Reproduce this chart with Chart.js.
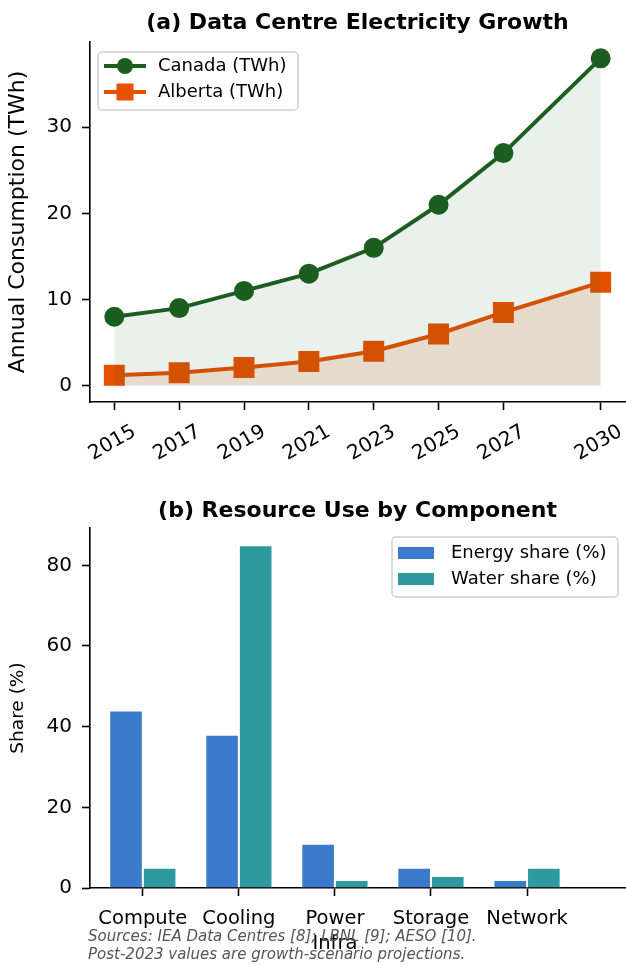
<!DOCTYPE html>
<html>
<head>
<meta charset="utf-8">
<script src="https://cdn.jsdelivr.net/npm/chart.js@4.4.1/dist/chart.umd.min.js"></script>
<style>
  html, body { margin: 0; padding: 0; background: #fff; }
  #wrap { position: relative; width: 626px; height: 965px; overflow: hidden; }
  #top { position: absolute; left: 0; top: 0; }
  #bottom { position: absolute; left: 0; top: 480px; }
  #note {
    position: absolute; left: 88px; top: 927px;
    font: italic 15px "DejaVu Sans", sans-serif; color: #555; line-height: 18px;
  }
</style>
</head>
<body>
<div id="wrap">
  <canvas id="top" width="626" height="480"></canvas>
  <canvas id="bottom" width="626" height="485"></canvas>
  <div id="note">Sources: IEA Data Centres [8]; LBNL [9]; AESO [10].<br>Post-2023 values are growth-scenario projections.</div>
</div>
<script>
// (a) electricity growth
const years = [2015, 2017, 2019, 2021, 2023, 2025, 2027, 2030];
const canadaTWh = [8, 9, 11, 13, 16, 21, 27, 38];
const albertaTWh = [1.2, 1.5, 2.1, 2.8, 4.0, 6.0, 8.5, 12.0];
const growthYTicks = [0, 10, 20, 30];

// (b) resource use
const components = ["Compute", "Cooling", "Power\nInfra", "Storage", "Network"];
const energyShare = [44, 38, 11, 5, 2];
const waterShare = [5, 85, 2, 3, 5];
const shareYTicks = [0, 20, 40, 60, 80];

const FONT = "'DejaVu Sans', sans-serif";
const GREEN = "#1b5e20";
const ORANGE = "#e65100";
const BLUE = "#3a7bcb";
const TEAL = "#2e9a9f";

Chart.defaults.font.family = FONT;
Chart.defaults.color = "#000";
Chart.defaults.animation = false;

function axisStyle() {
  return {
    grid: { display: true, offset: false, drawOnChartArea: false, drawTicks: true, tickLength: 8, tickWidth: 1.6, tickColor: "#000" },
    border: { display: true, color: "#000", width: 1.6 }
  };
}

function noPad(s) {
  s.paddingLeft = 0; s.paddingRight = 0; s.paddingTop = 0; s.paddingBottom = 0;
}

function roundRect(ctx, x, y, w, h, r) {
  ctx.beginPath();
  ctx.moveTo(x + r, y);
  ctx.arcTo(x + w, y, x + w, y + h, r);
  ctx.arcTo(x + w, y + h, x, y + h, r);
  ctx.arcTo(x, y + h, x, y, r);
  ctx.arcTo(x, y, x + w, y, r);
  ctx.closePath();
}

// title centred over the plot area
function plotTitle(id, text, cy) {
  return {
    id: id,
    afterDraw(chart) {
      const a = chart.chartArea, ctx = chart.ctx;
      ctx.save();
      ctx.font = "bold 22px " + FONT;
      ctx.fillStyle = "#000";
      ctx.textAlign = "center";
      ctx.textBaseline = "middle";
      ctx.fillText(text, (a.left + a.right) / 2, cy);
      ctx.restore();
    }
  };
}

// legend drawn inside the plot, matplotlib style
function boxLegend(id, box, rows) {
  return {
    id: id,
    afterDraw(chart) {
      const ctx = chart.ctx;
      ctx.save();
      roundRect(ctx, box.x, box.y, box.w, box.h, 4);
      ctx.fillStyle = "rgba(255,255,255,0.85)";
      ctx.fill();
      ctx.strokeStyle = "#d0d0d0";
      ctx.lineWidth = 1.5;
      ctx.stroke();
      ctx.font = "18px " + FONT;
      ctx.textBaseline = "middle";
      rows.forEach((r, i) => {
        const cy = box.y + box.rowTop + i * box.rowGap;
        const sx = box.x + 6;
        if (r.kind === "line") {
          ctx.strokeStyle = r.color;
          ctx.lineWidth = 4;
          ctx.beginPath();
          ctx.moveTo(sx, cy);
          ctx.lineTo(sx + 42, cy);
          ctx.stroke();
          ctx.fillStyle = r.color;
          if (r.marker === "circle") {
            ctx.beginPath();
            ctx.arc(sx + 21, cy, 8, 0, Math.PI * 2);
            ctx.fill();
          } else {
            ctx.fillRect(sx + 21 - 8.5, cy - 8.5, 17, 17);
          }
        } else {
          ctx.fillStyle = r.color;
          ctx.fillRect(sx, cy - 6, 36, 12);
        }
        ctx.fillStyle = "#000";
        ctx.textAlign = "left";
        ctx.fillText(r.label, box.x + box.textX, cy);
      });
      ctx.restore();
    }
  };
}

// rotated, centred year labels (matplotlib rotation=30)
const yearLabels = {
  id: "yearLabels",
  afterDraw(chart) {
    const sc = chart.scales.x;
    const ctx = chart.ctx;
    ctx.save();
    ctx.font = "20px " + FONT;
    ctx.fillStyle = "#000";
    ctx.textAlign = "center";
    ctx.textBaseline = "middle";
    sc.ticks.forEach(t => {
      const px = sc.getPixelForValue(t.value);
      ctx.save();
      ctx.translate(px - 2, 443);
      ctx.rotate(-Math.PI / 6);
      ctx.fillText(String(t.value), 0, 0);
      ctx.restore();
    });
    ctx.restore();
  }
};

const growthChart = new Chart(document.getElementById("top"), {
  type: "line",
  data: {
    datasets: [
      {
        label: "Canada (TWh)",
        data: years.map((y, i) => ({ x: y, y: canadaTWh[i] })),
        borderColor: GREEN,
        backgroundColor: "rgba(27,94,32,0.09)",
        pointBackgroundColor: GREEN,
        pointBorderColor: GREEN,
        pointStyle: "circle",
        pointRadius: 8,
        borderWidth: 4,
        fill: "origin"
      },
      {
        label: "Alberta (TWh)",
        data: years.map((y, i) => ({ x: y, y: albertaTWh[i] })),
        borderColor: ORANGE,
        backgroundColor: "rgba(230,81,0,0.13)",
        pointBackgroundColor: ORANGE,
        pointBorderColor: ORANGE,
        pointStyle: "rect",
        pointRadius: 12,
        borderWidth: 4,
        fill: "origin"
      }
    ]
  },
  options: {
    responsive: false,
    layout: { autoPadding: false, padding: { left: 0, right: 1, top: 42, bottom: 0 } },
    plugins: {
      legend: { display: false },
      tooltip: { enabled: false },
      title: { display: false }
    },
    scales: {
      x: {
        type: "linear",
        min: 2014.25,
        max: 2030.75,
        afterBuildTicks: s => { s.ticks = years.map(v => ({ value: v })); },
        afterFit: s => { s.height = 78; noPad(s); },
        ticks: { color: "rgba(0,0,0,0)", autoSkip: false, maxRotation: 0 },
        ...axisStyle()
      },
      y: {
        min: -1.9,
        max: 39.9,
        afterBuildTicks: s => { s.ticks = growthYTicks.map(v => ({ value: v })); },
        afterFit: s => { s.width = 90; noPad(s); },
        ticks: { font: { size: 20 }, padding: 10 },
        title: { display: true, text: "Annual Consumption (TWh)", font: { size: 22 }, padding: { top: 5, bottom: 0 } },
        ...axisStyle()
      }
    }
  },
  plugins: [
    yearLabels,
    plotTitle("titleA", "(a) Data Centre Electricity Growth", 23),
    boxLegend("legendA", { x: 98, y: 52, w: 200, h: 58, rowTop: 14, rowGap: 26, textX: 60 }, [
      { kind: "line", marker: "circle", color: GREEN, label: "Canada (TWh)" },
      { kind: "line", marker: "square", color: ORANGE, label: "Alberta (TWh)" }
    ])
  ]
});

const shareChart = new Chart(document.getElementById("bottom"), {
  type: "bar",
  data: {
    datasets: [
      {
        label: "Energy share (%)",
        data: energyShare.map((v, i) => ({ x: i, y: v })),
        backgroundColor: BLUE,
        borderColor: "#ffffff",
        borderWidth: 1
      },
      {
        label: "Water share (%)",
        data: waterShare.map((v, i) => ({ x: i, y: v })),
        backgroundColor: TEAL,
        borderColor: "#ffffff",
        borderWidth: 1
      }
    ]
  },
  options: {
    responsive: false,
    categoryPercentage: 0.7,
    barPercentage: 1.0,
    layout: { autoPadding: false, padding: { left: 0, right: 1, top: 48, bottom: 0 } },
    plugins: {
      legend: { display: false },
      tooltip: { enabled: false },
      title: { display: false }
    },
    scales: {
      x: {
        type: "linear",
        offset: false,
        min: -0.55,
        max: 5.02,
        afterBuildTicks: s => { s.ticks = components.map((c, i) => ({ value: i })); },
        afterFit: s => { s.height = 77; noPad(s); },
        ticks: {
          autoSkip: false, maxRotation: 0, font: { size: 19.5, lineHeight: 1.25 }, padding: 11,
          callback: v => (components[v] || "").split("\n")
        },
        ...axisStyle()
      },
      y: {
        min: 0,
        max: 89.25,
        afterBuildTicks: s => { s.ticks = shareYTicks.map(v => ({ value: v })); },
        afterFit: s => { s.width = 90; noPad(s); },
        ticks: { font: { size: 20 }, padding: 10 },
        title: { display: true, text: "Share (%)", font: { size: 18.5 }, padding: { top: 7, bottom: 0 } },
        ...axisStyle()
      }
    }
  },
  plugins: [
    plotTitle("titleB", "(b) Resource Use by Component", 31),
    boxLegend("legendB", { x: 392, y: 57, w: 226, h: 60, rowTop: 16, rowGap: 26, textX: 59 }, [
      { kind: "bar", color: BLUE, label: "Energy share (%)" },
      { kind: "bar", color: TEAL, label: "Water share (%)" }
    ])
  ]
});
</script>
</body>
</html>
